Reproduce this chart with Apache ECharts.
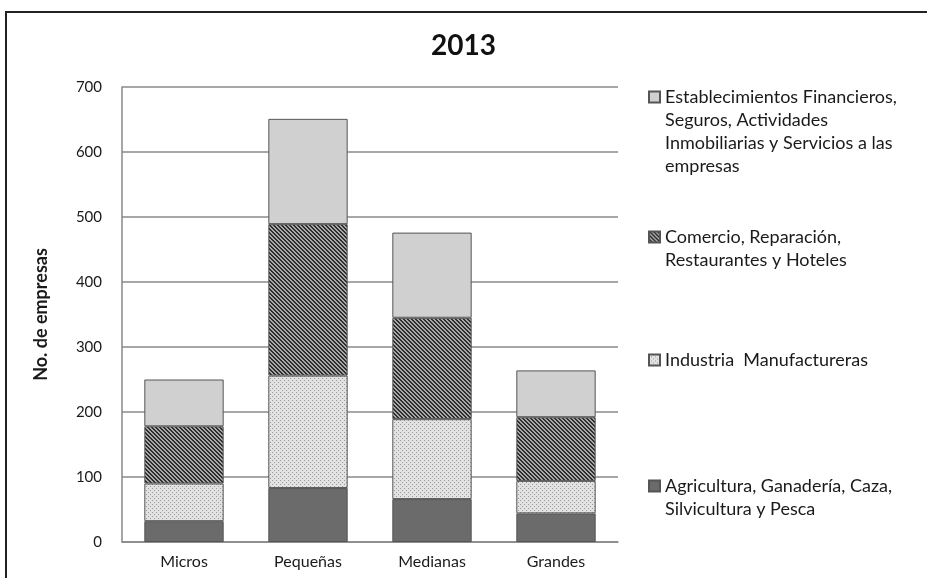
<!DOCTYPE html>
<html>
<head>
<meta charset="utf-8">
<script src="https://cdn.jsdelivr.net/npm/echarts@6/dist/echarts.min.js"></script>
<style>
    html, body { margin: 0; padding: 0; background: #fff; }
    #chart { width: 927px; height: 578px; }
</style>
</head>
<body>
<div id="chart"></div>
<script>
// categorias y valores
var categorias = ["Micros", "Pequeñas", "Medianas", "Grandes"];
var agricultura = [32, 83, 66, 44];
var industria = [58, 173, 123, 50];
var comercio = [88, 233, 156, 98];
var establecimientos = [72, 162, 131, 72];
var ticksY = [0, 100, 200, 300, 400, 500, 600, 700];

var nombres = [
    "Agricultura, Ganadería, Caza,\nSilvicultura y Pesca",
    "Industria  Manufactureras",
    "Comercio, Reparación,\nRestaurantes y Hoteles",
    "Establecimientos Financieros,\nSeguros, Actividades\nInmobiliarias y Servicios a las\nempresas"
];

// patrones de relleno tipo Excel
function rayado() {
    var c = document.createElement("canvas");
    c.width = 4; c.height = 4;
    var ctx = c.getContext("2d");
    ctx.fillStyle = "#a8a8a8";
    ctx.fillRect(0, 0, 4, 4);
    ctx.fillStyle = "#2e2e2e";
    for (var y = 0; y < 4; y++) {
        ctx.fillRect(y % 4, y, 1, 1);
        ctx.fillRect((y + 1) % 4, y, 1, 1);
    }
    return c;
}
function punteado() {
    var c = document.createElement("canvas");
    c.width = 4; c.height = 4;
    var ctx = c.getContext("2d");
    ctx.fillStyle = "#e2e2e2";
    ctx.fillRect(0, 0, 4, 4);
    ctx.fillStyle = "#9a9a9a";
    ctx.fillRect(0, 0, 1, 1);
    ctx.fillRect(2, 2, 1, 1);
    return c;
}

var fuente = "Lato, 'Noto Sans', sans-serif";
var lh = 23;

function serie(nombre, datos, color) {
    return {
        name: nombre,
        type: "bar",
        stack: "total",
        barWidth: "64%",
        animation: false,
        itemStyle: { color: color, borderColor: "#555", borderWidth: 1 },
        data: datos
    };
}

// una leyenda por serie; lineas vacias arriba para que el icono quede en la primera linea
function leyenda(nombre, primeraLinea) {
    var n = nombre.split("\n").length;
    var relleno = "";
    for (var i = 1; i < n; i++) relleno += "\n";
    return {
        data: [{ name: nombre, icon: "rect" }],
        formatter: function (t) { return relleno + t; },
        orient: "vertical",
        left: 648,
        top: primeraLinea - (2 * n - 1) * lh / 2,
        padding: 0,
        itemWidth: 11,
        itemHeight: 11,
        itemGap: 0,
        selectedMode: false,
        textStyle: {
            fontFamily: fuente,
            fontSize: 18,
            color: "#1a1a1a",
            lineHeight: lh
        }
    };
}

var myChart = echarts.init(document.getElementById("chart"));
myChart.setOption({
    backgroundColor: "#fff",
    title: {
        text: "2013",
        left: "center",
        top: 27,
        textStyle: { fontFamily: fuente, fontSize: 28, fontWeight: "bold", color: "#111" }
    },
    graphic: [{
        type: "rect",
        shape: { x: 6, y: 12, width: 1000, height: 1000 },
        style: { fill: "none", stroke: "#222", lineWidth: 2 },
        silent: true
    }],
    legend: [
        leyenda(nombres[3], 97),
        leyenda(nombres[2], 237),
        leyenda(nombres[1], 360),
        leyenda(nombres[0], 486)
    ],
    grid: { left: 122, right: 309, top: 87, bottom: 36 },
    xAxis: {
        type: "category",
        data: categorias,
        axisLine: { lineStyle: { color: "#888", width: 1.5 } },
        axisTick: { show: false },
        axisLabel: { fontFamily: fuente, fontSize: 16, color: "#1a1a1a", margin: 12 }
    },
    yAxis: {
        type: "value",
        min: ticksY[0],
        max: ticksY[ticksY.length - 1],
        interval: 100,
        name: "No. de empresas",
        nameLocation: "middle",
        nameGap: 72,
        nameTextStyle: { fontFamily: fuente, fontSize: 18, fontWeight: "bold", color: "#1a1a1a" },
        axisLine: { show: true, lineStyle: { color: "#888", width: 1.5 } },
        axisTick: { show: false },
        splitLine: { lineStyle: { color: "#8a8a8a", width: 1.5 } },
        axisLabel: { fontFamily: fuente, fontSize: 15, color: "#1a1a1a", margin: 20 }
    },
    series: [
        serie(nombres[0], agricultura, "#6b6b6b"),
        serie(nombres[1], industria, { image: punteado(), repeat: "repeat" }),
        serie(nombres[2], comercio, { image: rayado(), repeat: "repeat" }),
        serie(nombres[3], establecimientos, "#d0d0d0")
    ]
});
</script>
</body>
</html>
